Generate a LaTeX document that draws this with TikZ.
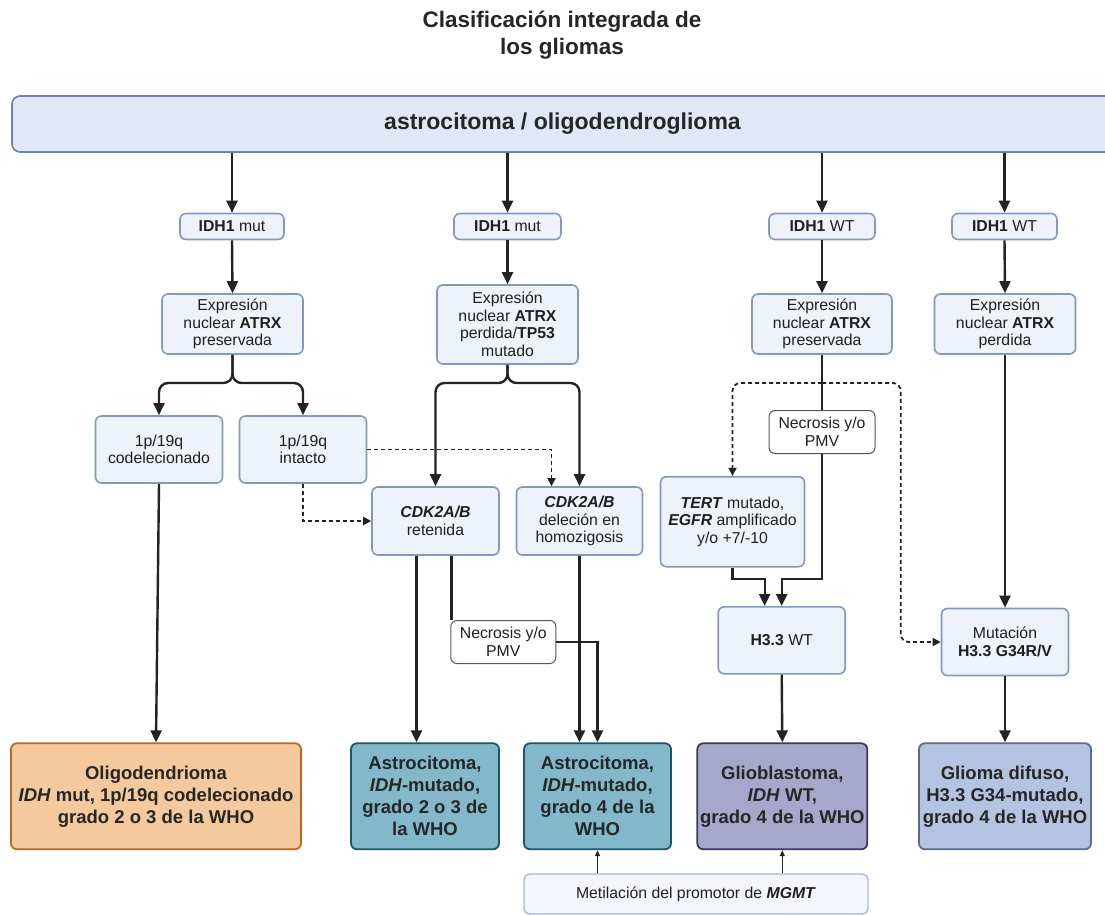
\documentclass[tikz,border=0pt]{standalone}
\usepackage{fontspec}
\setmainfont{Liberation Sans}
\usetikzlibrary{arrows.meta,calc}

\definecolor{boxfill}{HTML}{EEF2FA}
\definecolor{boxdraw}{HTML}{8596C0}
\definecolor{barfill}{HTML}{E2E7F8}
\definecolor{bardraw}{HTML}{6F80B0}
\definecolor{linec}{HTML}{232323}
\definecolor{oligofill}{HTML}{F3C99D}
\definecolor{oligodraw}{HTML}{B86A24}
\definecolor{astrofill}{HTML}{82B8C9}
\definecolor{astrodraw}{HTML}{1D5567}
\definecolor{gliofill}{HTML}{A7A7CC}
\definecolor{gliodraw}{HTML}{3A3A60}
\definecolor{difusofill}{HTML}{B4C3E2}
\definecolor{difusodraw}{HTML}{5C6A8C}
\definecolor{mgmtfill}{HTML}{F4F6FC}
\definecolor{mgmtdraw}{HTML}{A9B5D8}
\definecolor{necdraw}{HTML}{555555}

\tikzset{
  lbox/.style={draw=boxdraw, fill=boxfill, line width=1.6pt, rounded corners=6pt,
    align=center, inner sep=0pt, font=\fontsize{15.8}{17.5}\selectfont, text=black!88},
  necbox/.style={lbox, draw=necdraw, fill=white, line width=1pt},
  grade/.style={rounded corners=6pt, line width=1.8pt, align=center, inner sep=0pt,
    minimum height=106pt, font=\bfseries\fontsize{18.5}{22}\selectfont, text=black!85},
  arr/.style={draw=linec, line width=2.4pt, -{Triangle[length=12pt,width=11pt]}},
  plainline/.style={draw=linec, line width=2.4pt},
  dsh/.style={draw=linec, line width=1.8pt, dash pattern=on 4pt off 3pt,
    -{Triangle[length=8pt,width=8pt]}},
  thinarr/.style={draw=linec, line width=1.2pt, -{Triangle[length=6pt,width=5pt]}},
}

\begin{document}
\begin{tikzpicture}[x=1pt, y=-1pt]
\useasboundingbox (0,0) rectangle (1105,915);

% heading
\node[font=\bfseries\fontsize{22.5}{27}\selectfont, align=center, text=black!85]
  (title) at (562,35) {Clasificación integrada de\\los gliomas};

% top bar
\node[draw=bardraw, fill=barfill, line width=1.6pt, rounded corners=8pt,
  minimum width=1101pt, minimum height=56pt, inner sep=0pt,
  font=\bfseries\fontsize{23}{25}\selectfont, text=black!85]
  (bar) at (562.5,124) {astrocitoma / oligodendroglioma};

% IDH1 status
\node[lbox, minimum width=104pt, minimum height=26pt] (id1) at (232,226.5) {\textbf{IDH1} mut};
\node[lbox, minimum width=107pt, minimum height=26pt] (id2) at (507.5,226.5) {\textbf{IDH1} mut};
\node[lbox, minimum width=106pt, minimum height=26pt] (id3) at (822,226.5) {\textbf{IDH1} WT};
\node[lbox, minimum width=105pt, minimum height=26pt] (id4) at (1004.5,226.5) {\textbf{IDH1} WT};

% ATRX expression
\node[lbox, minimum width=141pt, minimum height=60pt] (at1) at (232.5,324)
  {Expresión\\nuclear \textbf{ATRX}\\preservada};
\node[lbox, minimum width=141pt, minimum height=79pt] (at2) at (507.5,324.5)
  {Expresión\\nuclear \textbf{ATRX}\\perdida/\textbf{TP53}\\mutado};
\node[lbox, minimum width=140pt, minimum height=60pt] (at3) at (822,324)
  {Expresión\\nuclear \textbf{ATRX}\\preservada};
\node[lbox, minimum width=141pt, minimum height=60pt] (at4) at (1005,324)
  {Expresión\\nuclear \textbf{ATRX}\\perdida};

% 1p/19q status
\node[lbox, minimum width=127pt, minimum height=67pt] (cod) at (159,449.5) {1p/19q\\codelecionado};
\node[lbox, minimum width=127pt, minimum height=67pt] (int) at (303,449.5) {1p/19q\\intacto};

% CDKN2A/B
\node[lbox, minimum width=127pt, minimum height=68pt] (ret) at (435.5,521)
  {\textbf{\itshape CDK2A/B}\\retenida};
\node[lbox, minimum width=126pt, minimum height=68pt] (hom) at (579.5,521)
  {\textbf{\itshape CDK2A/B}\\deleción en\\homozigosis};

% IDH wild-type branch
\node[necbox, minimum width=106pt, minimum height=43pt] (nec1) at (822,432) {Necrosis y/o\\PMV};
\node[lbox, minimum width=144pt, minimum height=90pt] (tert) at (732.5,521.7)
  {\textbf{\itshape TERT} mutado,\\\textbf{\itshape EGFR} amplificado\\y/o +7/-10};
\node[lbox, minimum width=127pt, minimum height=67pt] (h33) at (781.7,640.3) {\textbf{H3.3} WT};
\node[lbox, minimum width=127pt, minimum height=67pt] (mut) at (1005,642) {Mutación\\\textbf{H3.3 G34R/V}};
\node[necbox, minimum width=105pt, minimum height=43pt] (nec2) at (503.3,642) {Necrosis y/o\\PMV};

% diagnoses
\node[grade, draw=oligodraw, fill=oligofill, minimum width=290pt] (oligo) at (156,796.3)
  {Oligodendrioma\\\textit{IDH} mut, 1p/19q codelecionado\\grado 2 o 3 de la WHO};
\node[grade, draw=astrodraw, fill=astrofill, minimum width=148pt] (astro1) at (425,796.3)
  {Astrocitoma,\\\textit{IDH}-mutado,\\grado 2 o 3 de\\la WHO};
\node[grade, draw=astrodraw, fill=astrofill, minimum width=147pt] (astro2) at (597.5,796.3)
  {Astrocitoma,\\\textit{IDH}-mutado,\\grado 4 de la\\WHO};
\node[grade, draw=gliodraw, fill=gliofill, minimum width=170pt] (glio) at (782.3,796.3)
  {Glioblastoma,\\\textit{IDH} WT,\\grado 4 de la WHO};
\node[grade, draw=difusodraw, fill=difusofill, minimum width=172pt] (difuso) at (1005,796.3)
  {Glioma difuso,\\H3.3 G34-mutado,\\grado 4 de la WHO};

\node[lbox, draw=mgmtdraw, fill=mgmtfill, line width=1.4pt, minimum width=344pt, minimum height=40pt]
  (mgmt) at (696,894) {Metilación del promotor de \textbf{\itshape MGMT}};

% junctions
\coordinate (b1) at (232,383);
\coordinate (b2) at (507.5,383);
\coordinate (d3) at (822,383);
\coordinate (j3) at (822,579);

% bar to IDH1 boxes
\foreach \n in {id1,id2,id3,id4}
  \draw[arr] (bar.south -| \n.north) -- (\n.north);
% IDH1 to ATRX
\foreach \a/\b in {id1/at1,id2/at2,id3/at3,id4/at4}
  \draw[arr] (\a.south) -- (\b.north);

% oligodendroglial split
\draw[arr, rounded corners=9pt] (at1.south) |- (b1 -| cod.north) -- (cod.north);
\draw[arr, rounded corners=9pt] (at1.south) |- (b1 -| int.north) -- (int.north);
% astrocytic split
\draw[arr, rounded corners=9pt] (at2.south) |- (b2 -| ret.north) -- (ret.north);
\draw[arr, rounded corners=9pt] (at2.south) |- (b2 -| hom.north) -- (hom.north);

% dashed links from intact 1p/19q
\draw[dsh] (int.east) -| ([xshift=-28pt]hom.north);
\draw[dsh] (int.south) |- (ret.west);

% to diagnoses (IDH mutant)
\draw[arr] (cod.south) -- (oligo.north);
\draw[arr] ([xshift=-19pt]ret.south) -- ([xshift=-19pt]ret.south |- astro1.north);
\draw[plainline] ([xshift=16pt]ret.south) -- ([xshift=16pt]ret.south |- nec2.north);
\draw[arr] (nec2.east) -| (astro2.north);
\draw[arr] (hom.south) -- (hom.south |- astro2.north);

% IDH wild-type: glioblastoma path
\draw[plainline] (at3.south) -- (nec1.north);
\draw[arr] (nec1.south) -- (j3) -| (h33.north);
\draw[arr] (tert.south) |- ([xshift=-17pt]h33.north |- j3) -- ([xshift=-17pt]h33.north);
\draw[dsh, rounded corners=8pt] (d3) -| (tert.north);
\draw[dsh, rounded corners=8pt] (d3) -| ([xshift=-40pt]mut.west) -- (mut.west);

% ATRX lost to H3.3 G34
\draw[arr] (at4.south) -- (mut.north);
\draw[arr] (h33.south) -- (glio.north);
\draw[arr] (mut.south) -- (difuso.north);

% MGMT methylation
\draw[thinarr] (mgmt.north -| astro2.south) -- (astro2.south);
\draw[thinarr] (mgmt.north -| glio.south) -- (glio.south);
\end{tikzpicture}
\end{document}
